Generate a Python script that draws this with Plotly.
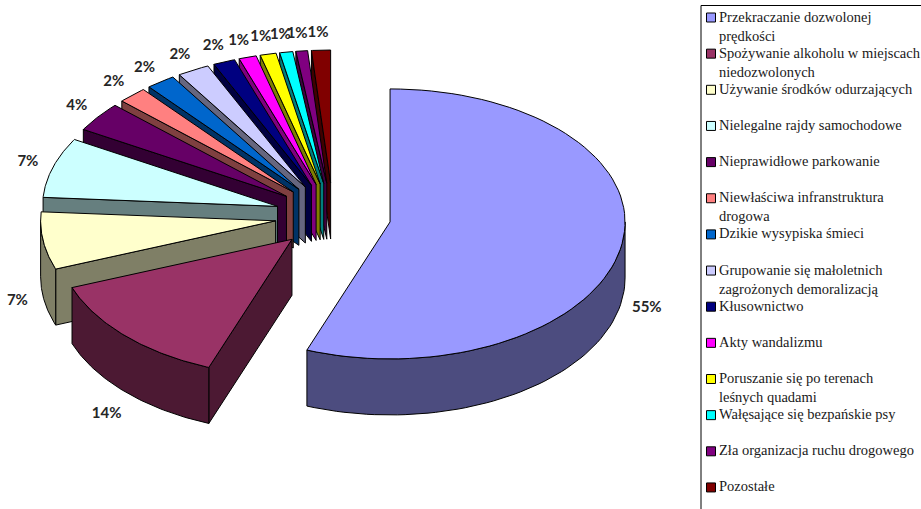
import numpy as np
import plotly.graph_objects as go

categories = [
    "Przekraczanie dozwolonej<br>prędkości",
    "Spożywanie alkoholu w miejscach<br>niedozwolonych",
    "Używanie środków odurzających",
    "Nielegalne rajdy samochodowe",
    "Nieprawidłowe parkowanie",
    "Niewłaściwa infranstruktura<br>drogowa",
    "Dzikie wysypiska śmieci",
    "Grupowanie się małoletnich<br>zagrożonych demoralizacją",
    "Kłusownictwo",
    "Akty wandalizmu",
    "Poruszanie się po terenach<br>leśnych quadami",
    "Wałęsające się bezpańskie psy",
    "Zła organizacja ruchu drogowego",
    "Pozostałe",
]
values = [55.7, 13.5, 6.8, 7.3, 3.6, 2.0, 2.0, 2.2, 1.5, 1.2, 1.1, 0.9, 0.8, 1.3]
pct_labels = ["55%", "14%", "7%", "7%", "4%", "2%", "2%", "2%", "2%", "1%", "1%", "1%", "1%", "1%"]
colors = ["#9999FF", "#993366", "#FFFFCC", "#CCFFFF", "#660066", "#FF8080", "#0066CC",
          "#CCCCFF", "#000080", "#FF00FF", "#FFFF00", "#00FFFF", "#800080", "#800000"]

CX, CY, RX, RY, RY_FRONT, DEPTH, PX, PY = 333, 216, 235, 133, 137, 56, 58, 33
LEGEND_X, LEGEND_TOP, LEGEND_STEP = 711, 17.5, 36.15


def darker(hex_color):
    r, g, b = (int(hex_color[i:i + 2], 16) for i in (1, 3, 5))
    return f"rgb({r // 2},{g // 2},{b // 2})"


def rim(th, ax, ay):
    c = np.cos(th)
    return ax + RX * np.sin(th), ay - np.where(c < 0, RY_FRONT, RY) * c


def poly(xs, ys, color):
    return go.Scatter(x=list(xs), y=list(ys), mode="lines", fill="toself", fillcolor=color,
                      line=dict(color="black", width=1), hoverinfo="skip", showlegend=False)


fig = go.Figure()
fracs = np.array(values) / sum(values) * 2 * np.pi
ends = np.cumsum(fracs)
starts = ends - fracs
mids = (starts + ends) / 2
apex_x = CX + PX * np.sin(mids)
apex_y = CY - PY * np.cos(mids)

for i in np.argsort(apex_y):
    a0, a1 = starts[i], ends[i]
    ax, ay = apex_x[i], apex_y[i]
    wall = darker(colors[i])
    if np.sin(a0) < 0:
        rx0, ry0 = rim(a0, ax, ay)
        fig.add_trace(poly([ax, rx0, rx0, ax, ax], [ay, ry0, ry0 + DEPTH, ay + DEPTH, ay], wall))
    if np.sin(a1) > 0:
        rx1, ry1 = rim(a1, ax, ay)
        fig.add_trace(poly([ax, rx1, rx1, ax, ax], [ay, ry1, ry1 + DEPTH, ay + DEPTH, ay], wall))
    lo, hi = max(a0, np.pi / 2), min(a1, 3 * np.pi / 2)
    if hi > lo:
        t = np.linspace(lo, hi, 60)
        ex, ey = rim(t, ax, ay)
        fig.add_trace(poly(np.r_[ex, ex[::-1], ex[0]], np.r_[ey, ey[::-1] + DEPTH, ey[0]], wall))
    t = np.linspace(a0, a1, 80)
    ex, ey = rim(t, ax, ay)
    fig.add_trace(poly(np.r_[ax, ex, ax], np.r_[ay, ey, ay], colors[i]))

lx, ly = rim(mids, apex_x, apex_y)
sn, cs = np.sin(mids), np.cos(mids)
lx = lx + np.where(sn > 0, 26, 24) * sn - np.where(sn < 0, 2, 0)
ly = ly - 17 * cs + np.where(cs < 0, DEPTH - 14 * cs, 0)
fig.add_trace(go.Scatter(x=lx, y=ly, mode="text", text=pct_labels, hoverinfo="skip", showlegend=False,
                         textfont=dict(family="Lato", size=15, color="#262626", weight="bold")))

key_y = LEGEND_TOP + LEGEND_STEP * np.arange(len(categories))
fig.add_trace(go.Scatter(x=[LEGEND_X] * len(categories), y=key_y, mode="markers", hoverinfo="skip",
                         showlegend=False,
                         marker=dict(symbol="square", size=9, color=colors,
                                     line=dict(color="black", width=1))))
for name, y in zip(categories, key_y):
    fig.add_annotation(x=LEGEND_X + 8, y=1 - (y - 9) / 509, xref="x", yref="paper", text=name, showarrow=False,
                       xanchor="left", yanchor="top", align="left", borderpad=0, borderwidth=0,
                       font=dict(family="Liberation Serif", size=14.5, color="#1a1a1a"))

fig.update_layout(
    width=921, height=509, margin=dict(l=0, r=0, t=0, b=0, autoexpand=False),
    paper_bgcolor="white", plot_bgcolor="white", showlegend=False,
    xaxis=dict(range=[0, 921], visible=False, fixedrange=True),
    yaxis=dict(range=[509, 0], visible=False, fixedrange=True),
    shapes=[
        dict(type="line", x0=701, x1=921, y0=5.5, y1=5.5, line=dict(color="black", width=1)),
        dict(type="line", x0=701, x1=701, y0=5.5, y1=509, line=dict(color="black", width=1)),
    ],
)
fig.write_html("out.html", config={"displayModeBar": False},
               post_script="document.body.style.margin='0';")
